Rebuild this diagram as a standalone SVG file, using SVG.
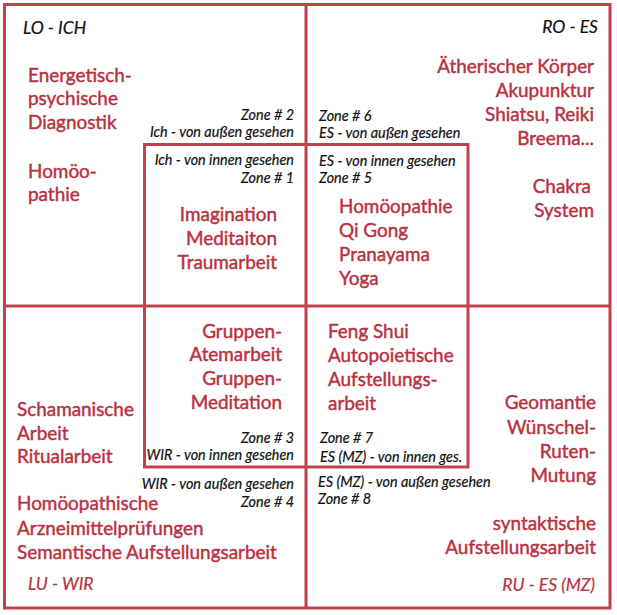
<svg xmlns="http://www.w3.org/2000/svg" width="617" height="615" viewBox="0 0 617 615">
<style>
.ln{fill:none;stroke:#c0404a;stroke-width:3}
.r{font-family:Lato,"Open Sans","Liberation Sans",sans-serif;font-size:18.9px;fill:#b8323f;stroke:#b8323f;stroke-width:0.45}
.z{font-family:Lato,"Open Sans","Liberation Sans",sans-serif;font-size:14.4px;font-style:italic;fill:#111;stroke:#111;stroke-width:0.2}
.q{font-family:Lato,"Open Sans","Liberation Sans",sans-serif;font-size:17.5px;font-style:italic;fill:#111;stroke:#111;stroke-width:0.2}
.qr{font-family:Lato,"Open Sans","Liberation Sans",sans-serif;font-size:17.5px;font-style:italic;fill:#b8323f;stroke:#b8323f;stroke-width:0.2}
.e{text-anchor:end}
</style>
<rect width="617" height="615" fill="#fff"/>
<g id="connectors">
<rect class="ln" x="4.5" y="4.5" width="605.5" height="603.5"/>
<line class="ln" x1="306" y1="4.5" x2="306" y2="608"/>
<line class="ln" x1="4.5" y1="306" x2="610" y2="306"/>
<rect class="ln" x="144.5" y="144.5" width="323.5" height="322.5"/>
</g>
<g id="lo-ich">
<text class="q" x="23" y="34">LO - ICH</text>
<text class="r" x="28" y="82">Energetisch-</text>
<text class="r" x="28" y="105">psychische</text>
<text class="r" x="28" y="129">Diagnostik</text>
<text class="r" x="28" y="178">Homöo-</text>
<text class="r" x="28" y="201">pathie</text>
<text class="z e" x="294" y="120">Zone # 2</text>
<text class="z e" x="294" y="137">Ich - von außen gesehen</text>
</g>
<g id="zone1">
<text class="z e" x="294" y="165">Ich - von innen gesehen</text>
<text class="z e" x="294" y="183">Zone # 1</text>
<text class="r e" x="277" y="221">Imagination</text>
<text class="r e" x="277" y="245">Meditaiton</text>
<text class="r e" x="277" y="269">Traumarbeit</text>
</g>
<g id="ro-es">
<text class="q e" x="598" y="33">RO - ES</text>
<text class="r e" x="594" y="73">Ätherischer Körper</text>
<text class="r e" x="594" y="97">Akupunktur</text>
<text class="r e" x="594" y="121">Shiatsu, Reiki</text>
<text class="r e" x="594" y="145">Breema...</text>
<text class="r e" x="591" y="193">Chakra</text>
<text class="r e" x="594" y="217">System</text>
<text class="z" x="319" y="121">Zone # 6</text>
<text class="z" x="319" y="138">ES - von außen gesehen</text>
</g>
<g id="zone5">
<text class="z" x="319" y="166">ES - von innen gesehen</text>
<text class="z" x="319" y="183">Zone # 5</text>
<text class="r" x="339" y="213">Homöopathie</text>
<text class="r" x="339" y="237">Qi Gong</text>
<text class="r" x="339" y="261">Pranayama</text>
<text class="r" x="339" y="285">Yoga</text>
</g>
<g id="zone3">
<text class="r e" x="282" y="338">Gruppen-</text>
<text class="r e" x="282" y="361">Atemarbeit</text>
<text class="r e" x="282" y="385">Gruppen-</text>
<text class="r e" x="282" y="409">Meditation</text>
<text class="z e" x="294" y="443">Zone # 3</text>
<text class="z e" x="294" y="460">WIR - von innen gesehen</text>
</g>
<g id="lu-wir">
<text class="r" x="17" y="416">Schamanische</text>
<text class="r" x="17" y="440">Arbeit</text>
<text class="r" x="17" y="463">Ritualarbeit</text>
<text class="z e" x="294" y="489">WIR - von außen gesehen</text>
<text class="z e" x="294" y="507">Zone # 4</text>
<text class="r" x="17" y="510">Homöopathische</text>
<text class="r" x="17" y="535">Arzneimittelprüfungen</text>
<text class="r" x="17" y="559">Semantische Aufstellungsarbeit</text>
<text class="qr" x="28" y="590">LU - WIR</text>
</g>
<g id="zone7">
<text class="r" x="328" y="338">Feng Shui</text>
<text class="r" x="328" y="362">Autopoietische</text>
<text class="r" x="328" y="386">Aufstellungs-</text>
<text class="r" x="328" y="410">arbeit</text>
<text class="z" x="320" y="443">Zone # 7</text>
<text class="z" x="320" y="462">ES (MZ) - von innen ges.</text>
</g>
<g id="ru-es">
<text class="z" x="318" y="487">ES (MZ) - von außen gesehen</text>
<text class="z" x="318" y="504">Zone # 8</text>
<text class="r e" x="596" y="409">Geomantie</text>
<text class="r e" x="596" y="434">Wünschel-</text>
<text class="r e" x="596" y="458">Ruten-</text>
<text class="r e" x="596" y="482">Mutung</text>
<text class="r e" x="596" y="530">syntaktische</text>
<text class="r e" x="596" y="554">Aufstellungsarbeit</text>
<text class="qr e" x="595" y="591">RU - ES (MZ)</text>
</g>
</svg>
